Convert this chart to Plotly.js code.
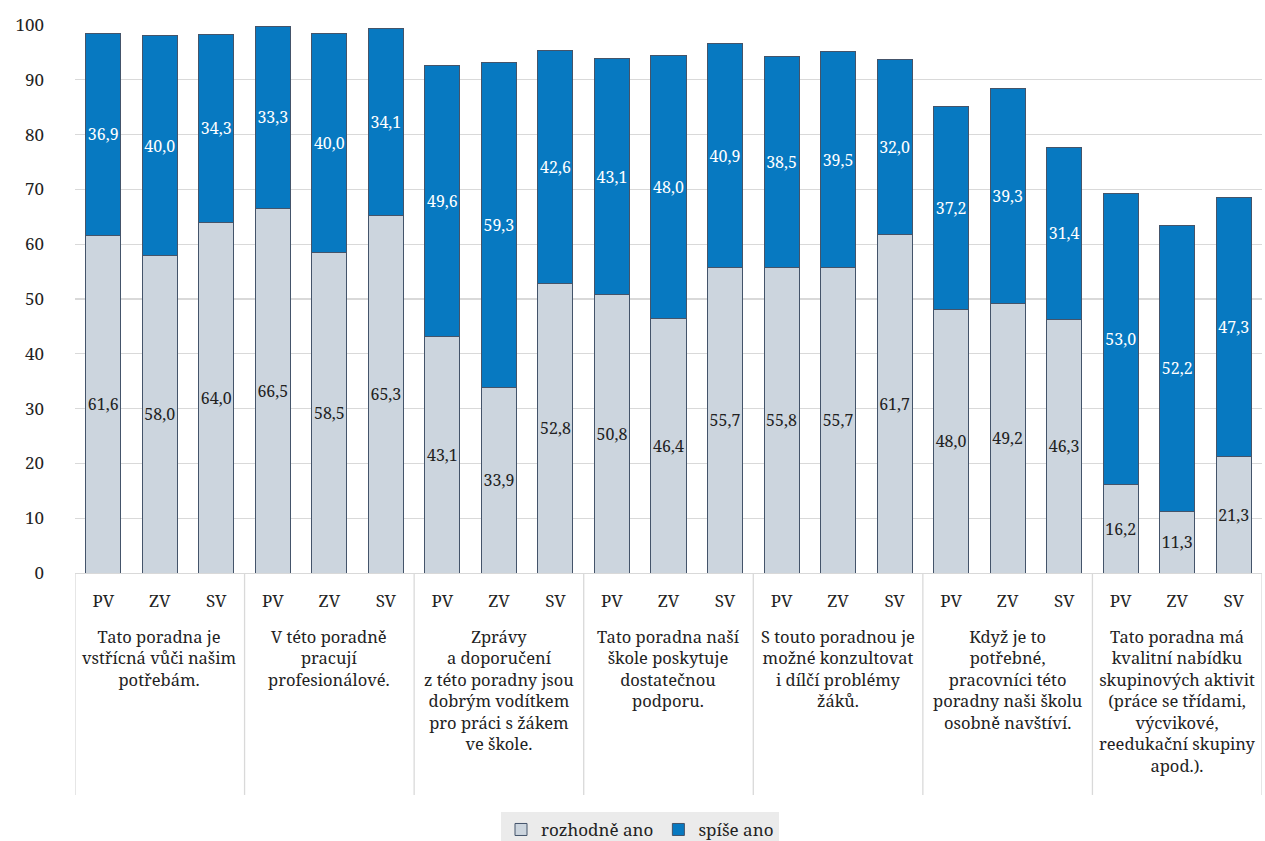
<!DOCTYPE html>
<html>
<head>
<meta charset="utf-8">
<script src="https://cdn.plot.ly/plotly-3.0.1.min.js"></script>
<style>
html,body{margin:0;padding:0;background:#fff;}
#chart{width:1265px;height:841px;}
</style>
</head>
<body>
<div id="chart"></div>
<script>
const groups = [
  "Tato poradna je<br>vstřícná vůči našim<br>potřebám.",
  "V této poradně<br>pracují<br>profesionálové.",
  "Zprávy<br>a doporučení<br>z této poradny jsou<br>dobrým vodítkem<br>pro práci s žákem<br>ve škole.",
  "Tato poradna naší<br>škole poskytuje<br>dostatečnou<br>podporu.",
  "S touto poradnou je<br>možné konzultovat<br>i dílčí problémy<br>žáků.",
  "Když je to<br>potřebné,<br>pracovníci této<br>poradny naši školu<br>osobně navštíví.",
  "Tato poradna má<br>kvalitní nabídku<br>skupinových aktivit<br>(práce se třídami,<br>výcvikové,<br>reedukační skupiny<br>apod.)."
];
const subLabels = ["PV", "ZV", "SV"];
const rozhodneAno = [61.6, 58.0, 64.0, 66.5, 58.5, 65.3, 43.1, 33.9, 52.8, 50.8, 46.4, 55.7, 55.8, 55.7, 61.7, 48.0, 49.2, 46.3, 16.2, 11.3, 21.3];
const spiseAno = [36.9, 40.0, 34.3, 33.3, 40.0, 34.1, 49.6, 59.3, 42.6, 43.1, 48.0, 40.9, 38.5, 39.5, 32.0, 37.2, 39.3, 31.4, 53.0, 52.2, 47.3];
const seriesNames = ["rozhodně ano", "spíše ano"];

const idx = rozhodneAno.map((_, i) => i);
const tickText = idx.map(i => subLabels[i % 3]);
const fmt = v => v.toFixed(1).replace('.', ',');
const fontFamily = "Noto Serif";

const traces = [
  {
    type: 'bar', name: seriesNames[0], x: idx, y: rozhodneAno,
    marker: {color: '#ccd5de', line: {color: '#44546a', width: 1}},
    text: rozhodneAno.map(fmt), textposition: 'inside', insidetextanchor: 'middle', textangle: 0,
    constraintext: 'none',
    textfont: {family: fontFamily, size: 16, color: '#222'}, hoverinfo: 'y'
  },
  {
    type: 'bar', name: seriesNames[1], x: idx, y: spiseAno,
    marker: {color: '#0779c1', line: {color: '#44546a', width: 1}},
    text: spiseAno.map(fmt), textposition: 'inside', insidetextanchor: 'middle', textangle: 0,
    constraintext: 'none',
    textfont: {family: fontFamily, size: 16, color: '#ffffff'}, hoverinfo: 'y'
  }
];

const shapes = [];
for (let g = 0; g <= groups.length; g++) {
  shapes.push({type: 'line', xref: 'x', yref: 'paper', x0: g * 3 - 0.5, x1: g * 3 - 0.5,
    y0: 0, y1: -0.405, line: {color: '#d9d9d9', width: 1.3}});
}
const annotations = groups.map((g, i) => ({
  xref: 'x', yref: 'paper', x: i * 3 + 1, y: -0.092, yanchor: 'top', xanchor: 'center',
  text: g, showarrow: false, align: 'center',
  font: {family: fontFamily, size: 16.5, color: '#222'}
}));

const layout = {
  width: 1265, height: 841,
  margin: {l: 75, r: 3, t: 25, b: 268, autoexpand: false},
  barmode: 'stack', bargap: 0.38,
  paper_bgcolor: '#fff', plot_bgcolor: '#fff',
  font: {family: fontFamily, size: 17, color: '#222'},
  xaxis: {
    range: [-0.5, 20.5], tickmode: 'array', tickvals: idx, ticktext: tickText,
    showgrid: false, zeroline: false, showline: true, linecolor: '#d9d9d9', linewidth: 1.3,
    ticks: '', tickfont: {family: fontFamily, size: 17, color: '#222'}, ticklabelstandoff: 12
  },
  yaxis: {
    range: [0, 100], dtick: 10, showgrid: true, gridcolor: '#d9d9d9', gridwidth: 1.3,
    zeroline: false, showline: false, ticks: '',
    tickfont: {family: fontFamily, size: 17, color: '#222'}, ticklabelstandoff: 30
  },
  showlegend: true,
  legend: {
    orientation: 'h', xref: 'paper', yref: 'paper', x: 0.476, xanchor: 'center',
    y: -0.436, yanchor: 'top', bgcolor: '#ebebeb',
    font: {family: fontFamily, size: 17, color: '#222'}, traceorder: 'normal',
    itemwidth: 30
  },
  shapes: shapes, annotations: annotations
};

Plotly.newPlot('chart', traces, layout, {displayModeBar: false, staticPlot: true});
</script>
</body>
</html>
